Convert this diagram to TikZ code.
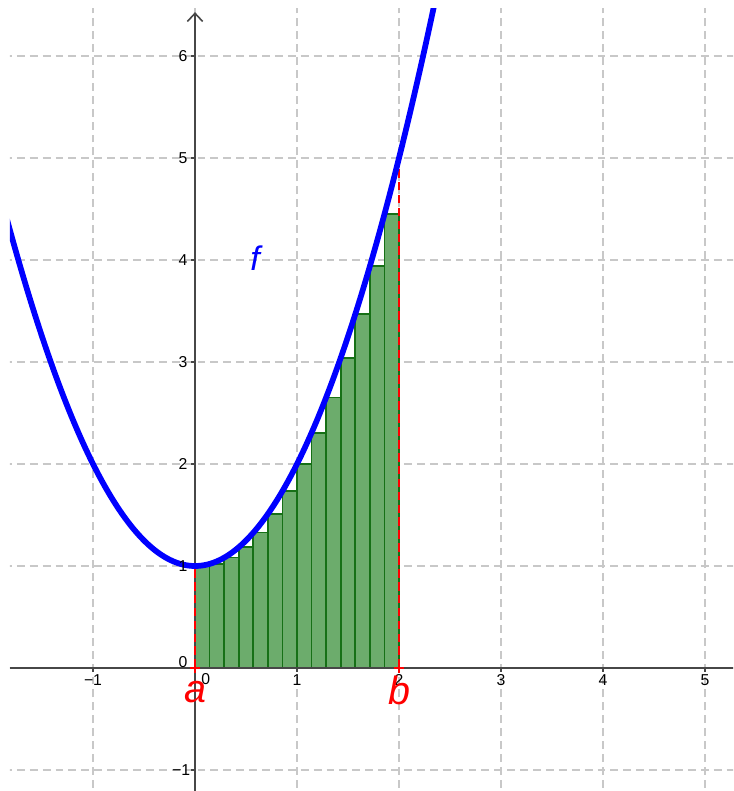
\documentclass[tikz,border=0pt]{standalone}
\usepackage{fontspec}
\setmainfont{Liberation Sans}
\usetikzlibrary{arrows.meta}
\definecolor{rfill}{RGB}{108,172,108}
\definecolor{rdraw}{RGB}{22,112,22}
\definecolor{fblue}{RGB}{0,0,255}
\definecolor{gridgray}{RGB}{200,200,200}
\begin{document}
\begin{tikzpicture}[x=1cm,y=1cm,
  gridline/.style={draw=gridgray, line width=0.45pt, dash pattern=on 2.2pt off 1.4pt},
  axisline/.style={draw=black!72, line width=0.45pt},
  ticklbl/.style={font=\fontsize{4.4}{5}\selectfont, text=black, inner sep=0pt},
  riemann/.style={fill=rfill, draw=rdraw, line width=0.45pt},
  bound/.style={draw=red, line width=0.8pt, dash pattern=on 2.4pt off 1.2pt},
  curve/.style={draw=fblue, line width=1.6pt},
  ptlbl/.style={text=red, font=\fontsize{11}{12}\selectfont\itshape, inner sep=0pt}
]
\useasboundingbox (-1.912,-1.206) rectangle (5.275,6.549);
\begin{scope}
\clip (-1.814,-1.206) rectangle (5.275,6.47);
% grid
\foreach \k in {-1,0,...,5} \draw[gridline] (\k,-1.3) -- (\k,6.6);
\foreach \k in {-1,0,...,6} \draw[gridline] (-2,\k) -- (5.4,\k);
% riemann rectangles
\foreach \i in {0,...,13} {
  \pgfmathsetmacro\xl{\i/7}
  \pgfmathsetmacro\xr{(\i+1)/7}
  \pgfmathsetmacro\hh{\xl*\xl+1}
  \filldraw[riemann] (\xl,0) rectangle (\xr,\hh);
}
% axes
\draw[axisline] (-1.814,0) -- (5.3,0);
\draw[axisline, -{Straight Barb[length=0.8mm,width=1.5mm]}] (0,-1.3) -- (0,6.43);
\foreach \k in {-1,1,2,3,4,5} \draw[axisline] (\k,0) -- (\k,-0.035);
\foreach \k in {-1,1,2,3,4,5,6} \draw[axisline] (0,\k) -- (-0.035,\k);
% bounds
\draw[bound] (0,0) -- (0,1);
\draw[bound] (2,0) -- (2,5);
\draw[red, line width=0.7pt] (-0.045,0) -- (0.045,0) (0,0) -- (0,-0.05)
  (1.955,0) -- (2.045,0) (2,0) -- (2,-0.05);
% curve
\draw[curve] plot[domain=-1.85:2.4, samples=200, smooth] (\x,{\x*\x+1});
\end{scope}
% tick labels
\foreach \k in {1,3,4,5} \node[ticklbl] (xl\k) at (\k,-0.12) {\k};
\node[ticklbl] (xlm1) at (-1,-0.12) {−1};
\node[ticklbl] (xl2) at (2,-0.12) {2};
\node[ticklbl] (xl0) at (0.105,-0.11) {0};
\foreach \k in {1,2,3,4,5,6} \node[ticklbl] (yl\k) at (-0.118,\k) {\k};
\node[ticklbl] (ylm1) at (-0.135,-1) {−1};
\node[ticklbl] (yl0) at (-0.118,0.06) {0};
% labels
\node[ptlbl] (la) at (0.005,-0.24) {a};
\node[ptlbl] (lb) at (2.0,-0.215) {b};
\node[text=fblue, font=\fontsize{9.5}{11}\selectfont\itshape, inner sep=0pt] (lf) at (0.59,4.02) {f};
\end{tikzpicture}
\end{document}
